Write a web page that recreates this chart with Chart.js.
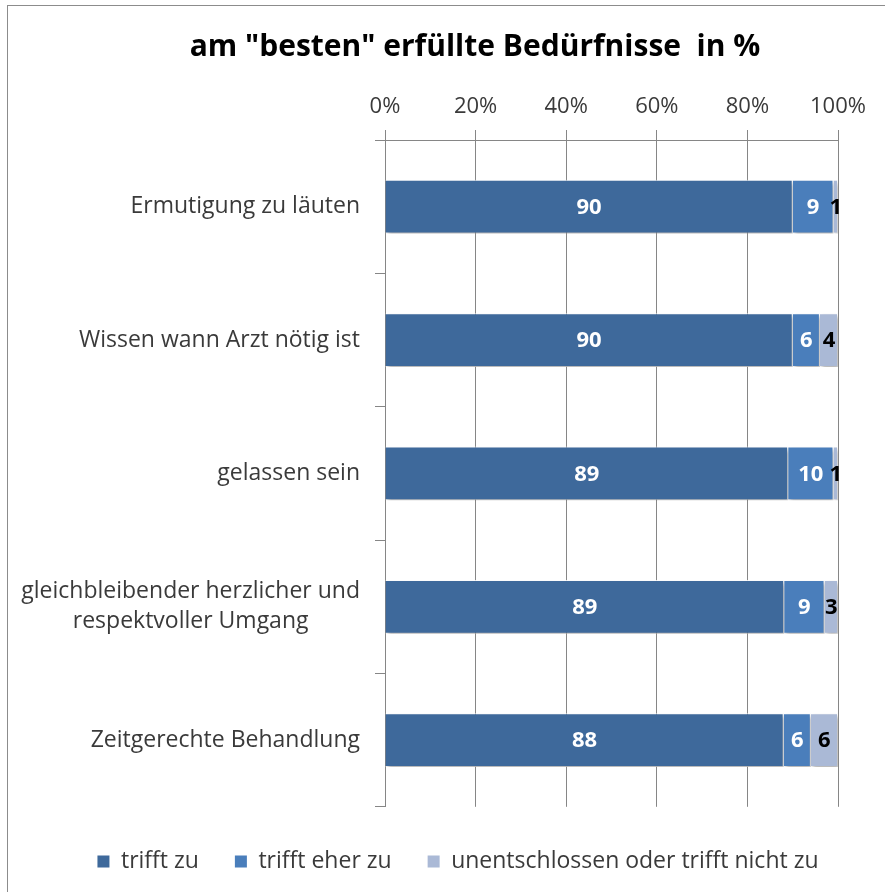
<!DOCTYPE html>
<html lang="de">
<head>
<meta charset="utf-8">
<title>am "besten" erfüllte Bedürfnisse in %</title>
<script src="https://cdn.jsdelivr.net/npm/chart.js@4.4.1/dist/chart.umd.min.js"></script>
<style>
  html, body { margin: 0; padding: 0; background: #fff; }
  #wrap { position: relative; width: 885px; height: 892px; overflow: hidden; }
  #frame { position: absolute; left: 7px; top: 5px; right: -10px; bottom: -10px; border: 1px solid #8c8c8c; pointer-events: none; }
</style>
</head>
<body>
<div id="wrap">
  <canvas id="needsChart"></canvas>
  <div id="frame"></div>
</div>
<script>
const chartTitle = 'am "besten" erfüllte Bedürfnisse  in %';
const categories = [
  'Ermutigung zu läuten',
  'Wissen wann Arzt nötig ist',
  'gelassen sein',
  ['gleichbleibender herzlicher und', 'respektvoller Umgang'],
  'Zeitgerechte Behandlung'
];
const trifftZu = [90, 90, 89, 89, 88];
const trifftEherZu = [9, 6, 10, 9, 6];
const unentschlossen = [1, 4, 1, 3, 6];
const xTicks = [0, 20, 40, 60, 80, 100];

const FONT = '"Open Sans"';
const GRID = '#868686';
const TEXT = '#3a3a3a';
const LABEL_SIZE = 23;
const PAD_LEFT = 61;

// 100% stacked: every row is scaled to its own total
const rowTotals = categories.map((_, i) => trifftZu[i] + trifftEherZu[i] + unentschlossen[i]);
const share = arr => arr.map((v, i) => v / rowTotals[i] * 100);

function makeSeries(label, values, color, labelColor) {
  return {
    label,
    data: share(values),
    raw: values,
    labelColor,
    backgroundColor: color,
    borderColor: 'rgba(255,255,255,0.85)',
    borderWidth: 1,
    barPercentage: 0.62,
    categoryPercentage: 0.65
  };
}

// title sits a bit right of the canvas centre, over the plot
const titleText = {
  id: 'titleText',
  afterDraw(chart) {
    const ctx = chart.ctx;
    ctx.save();
    ctx.font = `bold 30px ${FONT}`;
    ctx.fillStyle = '#000000';
    ctx.textAlign = 'center';
    ctx.textBaseline = 'middle';
    ctx.fillText(chartTitle, 475, 47);
    ctx.restore();
  }
};

// category names: right-aligned, wrapped lines centred on each other
const categoryLabels = {
  id: 'categoryLabels',
  afterDraw(chart) {
    const ctx = chart.ctx;
    const scale = chart.scales.y;
    const right = scale.right - 25;
    ctx.save();
    ctx.font = `${LABEL_SIZE}px ${FONT}`;
    ctx.fillStyle = TEXT;
    ctx.textAlign = 'center';
    ctx.textBaseline = 'middle';
    chart.data.labels.forEach((label, i) => {
      const lines = [].concat(label);
      const y = scale.getPixelForTick(i);
      const block = Math.max(...lines.map(l => ctx.measureText(l).width));
      lines.forEach((line, k) => {
        ctx.fillText(line, right - block / 2, y + (k - (lines.length - 1) / 2) * 30);
      });
    });
    ctx.restore();
  }
};

// soft drop shadow under the bars
const barShadow = {
  id: 'barShadow',
  beforeDatasetsDraw(chart) {
    const ctx = chart.ctx;
    ctx.save();
    ctx.shadowColor = 'rgba(0,0,0,0.3)';
    ctx.shadowOffsetX = 2;
    ctx.shadowOffsetY = 3;
    ctx.shadowBlur = 4;
  },
  afterDatasetsDraw(chart) {
    chart.ctx.restore();
  }
};

// numbers written in the middle of each segment
const valueLabels = {
  id: 'valueLabels',
  afterDatasetsDraw(chart) {
    const ctx = chart.ctx;
    ctx.save();
    ctx.font = `bold 22px ${FONT}`;
    ctx.textAlign = 'center';
    ctx.textBaseline = 'middle';
    chart.data.datasets.forEach((ds, i) => {
      chart.getDatasetMeta(i).data.forEach((bar, j) => {
        const { x, base, y } = bar.getProps(['x', 'base', 'y'], true);
        ctx.fillStyle = ds.labelColor;
        ctx.fillText(String(ds.raw[j]), (x + base) / 2, y + 1);
      });
    });
    ctx.restore();
  }
};

new Chart(document.getElementById('needsChart'), {
  type: 'bar',
  data: {
    labels: categories,
    datasets: [
      makeSeries('trifft zu', trifftZu, '#3E699B', '#ffffff'),
      makeSeries('trifft eher zu', trifftEherZu, '#4A7EBB', '#ffffff'),
      makeSeries('unentschlossen oder trifft nicht zu', unentschlossen, '#AAB9D6', '#000000')
    ]
  },
  options: {
    indexAxis: 'y',
    responsive: true,
    maintainAspectRatio: false,
    animation: false,
    layout: { padding: { left: PAD_LEFT, right: 30, top: 75, bottom: 9 } },
    plugins: {
      title: { display: false },
      legend: {
        position: 'bottom',
        title: { display: true, text: '', font: { size: 1 }, padding: { top: 6, bottom: 0 } },
        labels: {
          boxWidth: 12,
          boxHeight: 12,
          padding: 36,
          color: TEXT,
          font: { family: FONT, size: LABEL_SIZE },
          generateLabels: chart => Chart.defaults.plugins.legend.labels.generateLabels(chart)
            .map(l => ({ ...l, lineWidth: 0 }))
        }
      },
      tooltip: { enabled: false }
    },
    scales: {
      x: {
        position: 'top',
        stacked: true,
        min: 0,
        max: 100,
        afterBuildTicks: scale => { scale.ticks = xTicks.map(v => ({ value: v })); },
        afterFit: scale => { scale.height = 65; },
        ticks: {
          color: TEXT,
          padding: 10,
          font: { family: FONT, size: 22 },
          callback: v => v + '%'
        },
        grid: { color: GRID, tickLength: 10, lineWidth: 1 },
        border: { color: GRID }
      },
      y: {
        stacked: true,
        afterFit: scale => { scale.width = 385 - PAD_LEFT; },
        ticks: { display: false },
        grid: { drawOnChartArea: false, color: GRID, tickLength: 10 },
        border: { color: GRID }
      },
      // empty strip keeping the plot clear of the right edge
      yRight: {
        type: 'category',
        axis: 'y',
        position: 'right',
        afterFit: scale => { scale.width = 17; },
        ticks: { display: false },
        grid: { display: false },
        border: { display: false }
      }
    }
  },
  plugins: [barShadow, valueLabels, categoryLabels, titleText]
});
</script>
</body>
</html>
